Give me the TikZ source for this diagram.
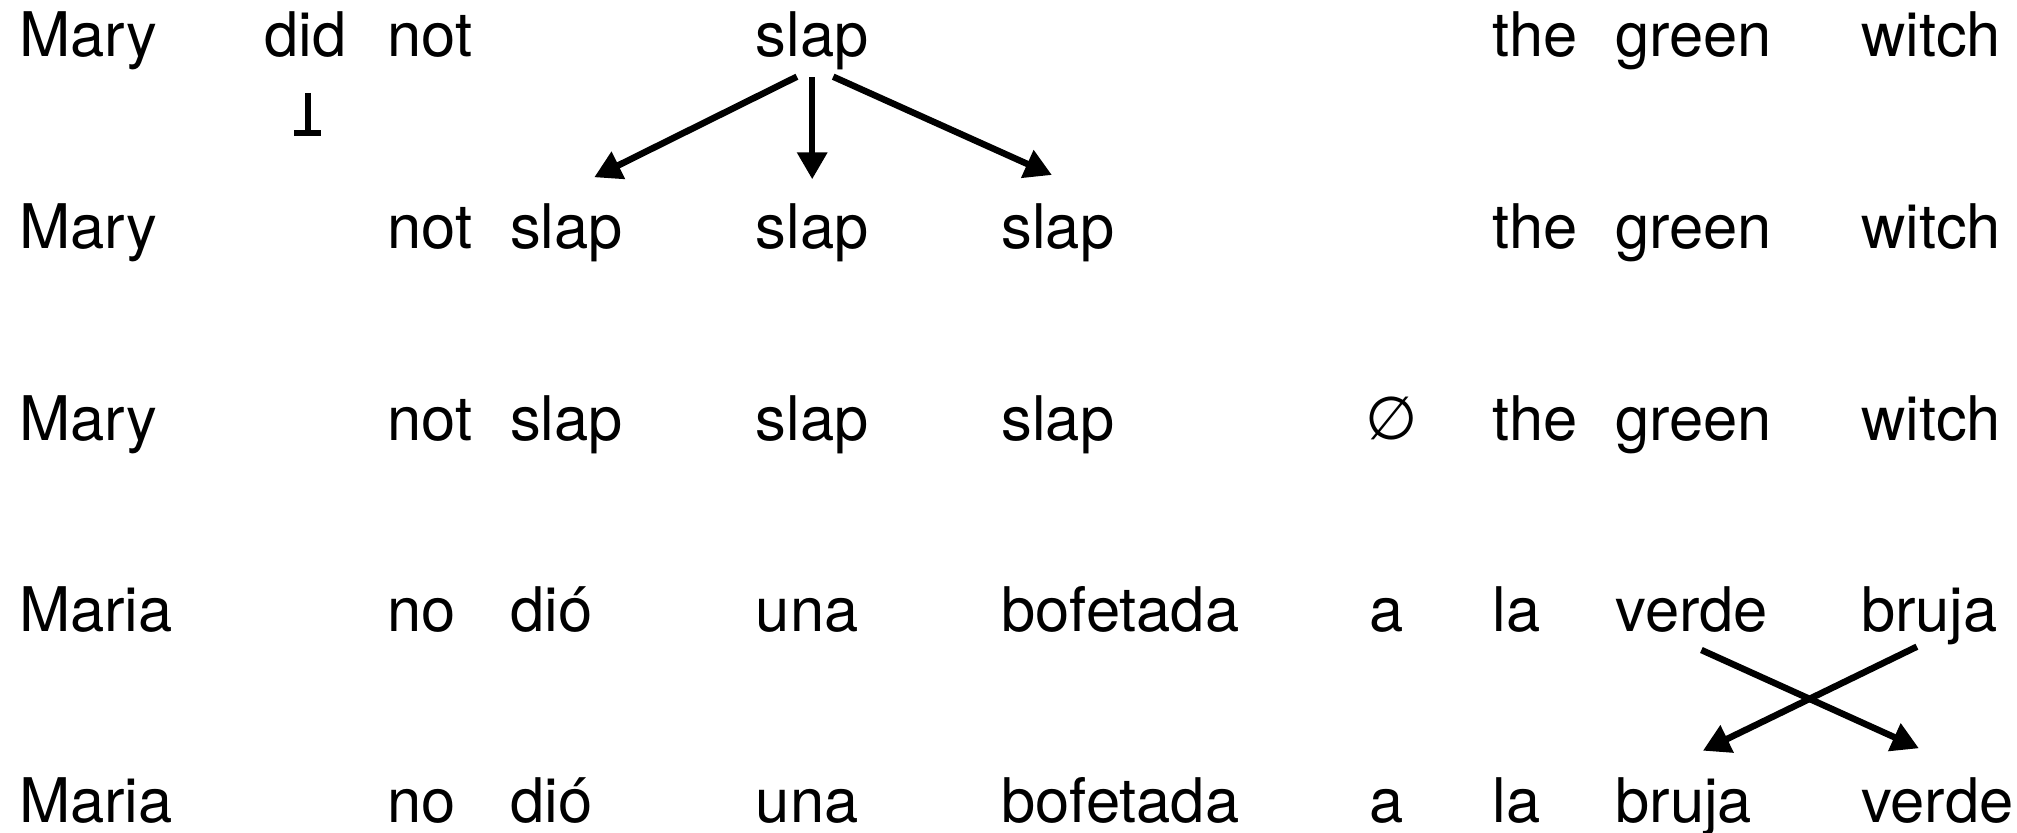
\documentclass[tikz,border=0pt]{standalone}
\usepackage{fontspec}
\setmainfont{TeX Gyre Heros}
\newfontfamily\symfont{DejaVu Sans}
\usetikzlibrary{arrows.meta,calc}
\begin{document}
\begin{tikzpicture}[x=1pt,y=-1pt,
  word/.style={anchor=base west,inner sep=0pt,font=\fontsize{61.5}{70}\selectfont},
  link/.style={line width=6.5pt,-{Triangle[length=27pt,width=29pt]}},
  deleted/.style={line width=6pt},
]
\useasboundingbox (0,0) rectangle (2017,832);
% column k sits at x = 18.8 + 122.8 k ; rows share baselines
% row 1: English source
\node[word] (r1c0)  at ({18.8+0*122.8},57) {Mary};
\node[word] (r1c2)  at ({18.8+2*122.8},57) {did};
\node[word] (r1c3)  at ({18.8+3*122.8},57) {not};
\node[word] (r1c6)  at ({18.8+6*122.8},57) {slap};
\node[word] (r1c12) at ({18.8+12*122.8},57) {the};
\node[word] (r1c13) at ({18.8+13*122.8},57) {green};
\node[word] (r1c15) at ({18.8+15*122.8},57) {witch};
% row 2: fertility
\node[word] (r2c0)  at ({18.8+0*122.8},248) {Mary};
\node[word] (r2c3)  at ({18.8+3*122.8},248) {not};
\node[word] (r2c4)  at ({18.8+4*122.8},248) {slap};
\node[word] (r2c6)  at ({18.8+6*122.8},248) {slap};
\node[word] (r2c8)  at ({18.8+8*122.8},248) {slap};
\node[word] (r2c12) at ({18.8+12*122.8},248) {the};
\node[word] (r2c13) at ({18.8+13*122.8},248) {green};
\node[word] (r2c15) at ({18.8+15*122.8},248) {witch};
% row 3: null insertion
\node[word] (r3c0)  at ({18.8+0*122.8},440) {Mary};
\node[word] (r3c3)  at ({18.8+3*122.8},440) {not};
\node[word] (r3c4)  at ({18.8+4*122.8},440) {slap};
\node[word] (r3c6)  at ({18.8+6*122.8},440) {slap};
\node[word] (r3c8)  at ({18.8+8*122.8},440) {slap};
\node[inner sep=0pt,font=\symfont\fontsize{60}{64}\selectfont] (r3c11) at (1392,418) {∅};
\node[word] (r3c12) at ({18.8+12*122.8},440) {the};
\node[word] (r3c13) at ({18.8+13*122.8},440) {green};
\node[word] (r3c15) at ({18.8+15*122.8},440) {witch};
% row 4: lexical translation
\node[word] (r4c0)  at ({18.8+0*122.8},631) {Maria};
\node[word] (r4c3)  at ({18.8+3*122.8},631) {no};
\node[word] (r4c4)  at ({18.8+4*122.8},631) {dió};
\node[word] (r4c6)  at ({18.8+6*122.8},631) {una};
\node[word] (r4c8)  at ({18.8+8*122.8},631) {bofetada};
\node[word] (r4c11) at ({18.8+11*122.8},631) {a};
\node[word] (r4c12) at ({18.8+12*122.8},631) {la};
\node[word] (r4c13) at ({18.8+13*122.8},631) {verde};
\node[word] (r4c15) at ({18.8+15*122.8},631) {bruja};
% row 5: distortion
\node[word] (r5c0)  at ({18.8+0*122.8},822) {Maria};
\node[word] (r5c3)  at ({18.8+3*122.8},822) {no};
\node[word] (r5c4)  at ({18.8+4*122.8},822) {dió};
\node[word] (r5c6)  at ({18.8+6*122.8},822) {una};
\node[word] (r5c8)  at ({18.8+8*122.8},822) {bofetada};
\node[word] (r5c11) at ({18.8+11*122.8},822) {a};
\node[word] (r5c12) at ({18.8+12*122.8},822) {la};
\node[word] (r5c13) at ({18.8+13*122.8},822) {bruja};
\node[word] (r5c15) at ({18.8+15*122.8},822) {verde};
% "did" is dropped: a stem ending on a bar
\coordinate (dropfoot) at ($(r1c2.base)+(2.3,76)$);
\draw[deleted] ($(r1c2.base)+(2.3,36)$) -- (dropfoot);
\draw[deleted] ($(dropfoot)+(-13.5,0)$) -- ($(dropfoot)+(13.5,0)$);
% "slap" is copied three times
\draw[link] ($(r1c6.base)+(-15.3,19.7)$) -- ($(r2c4.base)+(27.6,-70.7)$);
\draw[link] ($(r1c6.base)+(0,20.3)$) -- ($(r2c6.base)+(0,-68.7)$);
\draw[link] ($(r1c6.base)+(21,19.7)$) -- ($(r2c8.base)+(-5.9,-73)$);
% adjective and noun swap places
\draw[link] ($(r4c13.base)+(9.7,19)$) -- ($(r5c15.base)+(-18.4,-73.7)$);
\draw[link] ($(r4c15.base)+(-12.5,15.7)$) -- ($(r5c13.base)+(19.1,-71.3)$);
\end{tikzpicture}
\end{document}
